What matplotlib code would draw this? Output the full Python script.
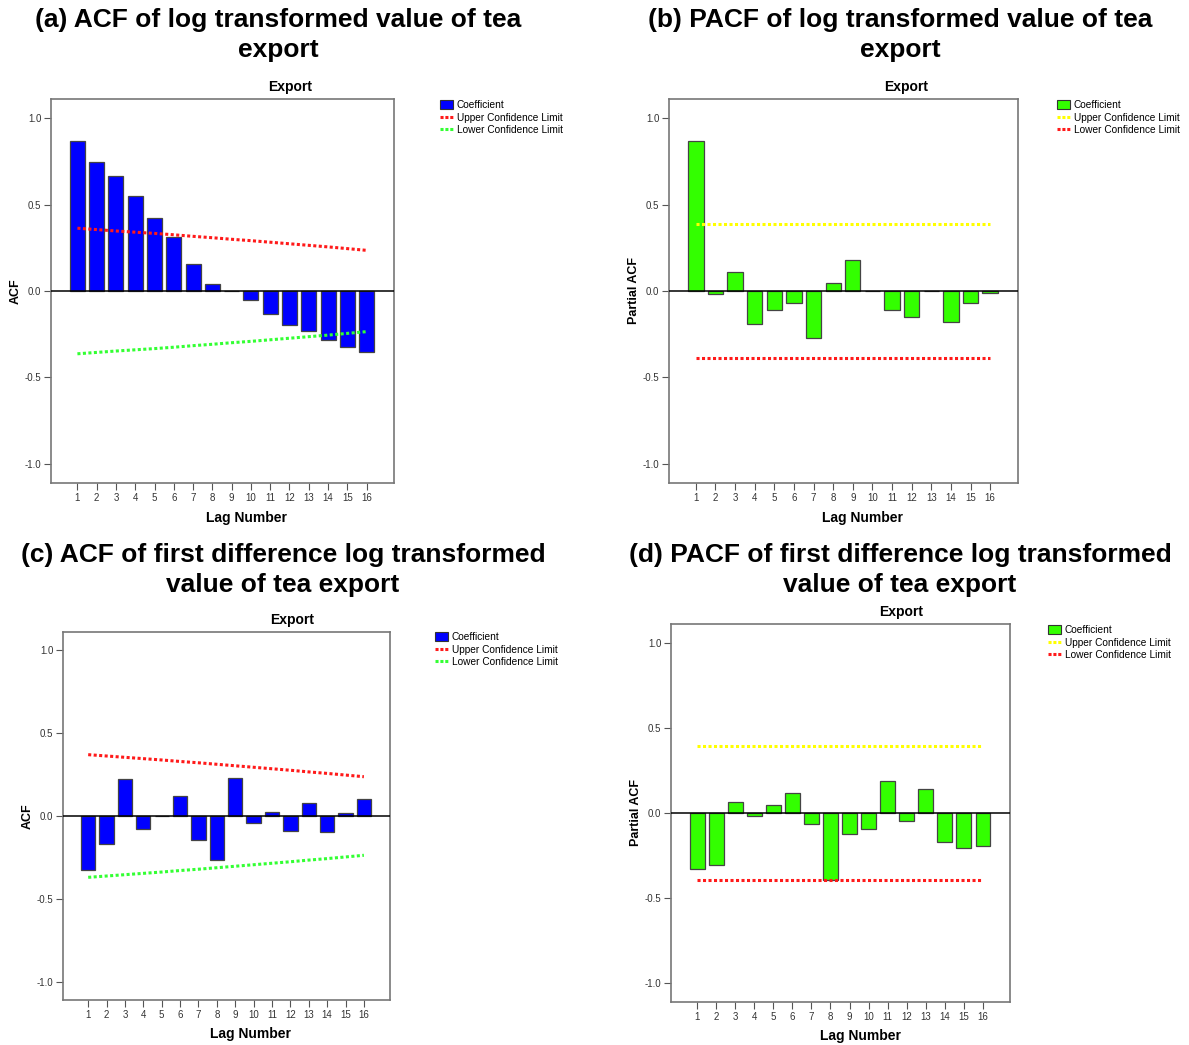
import matplotlib
matplotlib.use("Agg")
import matplotlib.pyplot as plt
from matplotlib.patches import Patch
from matplotlib.lines import Line2D

plt.rcParams['font.family'] = ['Liberation Sans', 'DejaVu Sans']

lags = list(range(1, 17))

acf_log = [0.865, 0.745, 0.666, 0.550, 0.423, 0.315, 0.154, 0.039, 0.002,
           -0.054, -0.133, -0.197, -0.230, -0.284, -0.322, -0.351]
acf_log_upper = [0.363, 0.355, 0.347, 0.340, 0.333, 0.325, 0.316, 0.308,
                 0.299, 0.291, 0.282, 0.273, 0.264, 0.255, 0.245, 0.235]

pacf_log = [0.865, -0.019, 0.112, -0.191, -0.112, -0.068, -0.274, 0.048,
            0.180, 0.002, -0.112, -0.151, 0.002, -0.178, -0.069, -0.010]
pacf_log_limit = 0.385

acf_diff = [-0.326, -0.167, 0.225, -0.076, 0.003, 0.119, -0.147, -0.266,
            0.229, -0.044, 0.026, -0.093, 0.078, -0.097, 0.016, 0.100]
acf_diff_upper = [0.370, 0.362, 0.354, 0.346, 0.338, 0.329, 0.321, 0.312,
                  0.303, 0.294, 0.285, 0.276, 0.266, 0.257, 0.247, 0.237]

pacf_diff = [-0.328, -0.308, 0.067, -0.016, 0.049, 0.118, -0.063, -0.393,
             -0.126, -0.092, 0.187, -0.045, 0.139, -0.169, -0.206, -0.195]
pacf_diff_limit = 0.393

titles = ["(a) ACF of log transformed value of tea\nexport",
          "(b) PACF of log transformed value of tea\nexport",
          "(c) ACF of first difference log transformed\nvalue of tea export",
          "(d) PACF of first difference log transformed\nvalue of tea export"]
ytick_vals = [-1.0, -0.5, 0.0, 0.5, 1.0]
ytick_labels = ["-1.0", "-0.5", "0.0", "0.5", "1.0"]

W, H = 1189, 1045
fig = plt.figure(figsize=(W / 100, H / 100), dpi=100)

def fx(px):
    return px / W

def fy(py):
    return 1 - py / H

# axes rectangles in pixel coordinates (left, top, right, bottom)
rects = [(51, 99, 394, 483), (669, 99, 1018, 483),
         (63, 632, 390, 1000), (671, 624, 1010, 1002)]
title_pos = [(278, 20), (900, 20), (283, 555), (900, 555)]
legend_pos = [(440, 100), (1057, 100), (435, 632), (1048, 625)]
export_pos = [(290, 87), (906, 87), (292, 620), (901, 612)]
lag_pos = [(246, 518), (863, 518), (251, 1034), (860, 1036)]

BLUE = "#0000FF"
GREEN = "#33FF00"
RED = "#FF1A1A"
LGREEN = "#33FF33"
YELLOW = "#FFFF00"

specs = [
    dict(vals=acf_log, upper=acf_log_upper, lower=[-v for v in acf_log_upper],
         color=BLUE, ucol=RED, lcol=LGREEN, ylabel="ACF"),
    dict(vals=pacf_log, upper=[pacf_log_limit] * 16, lower=[-pacf_log_limit] * 16,
         color=GREEN, ucol=YELLOW, lcol=RED, ylabel="Partial ACF"),
    dict(vals=acf_diff, upper=acf_diff_upper, lower=[-v for v in acf_diff_upper],
         color=BLUE, ucol=RED, lcol=LGREEN, ylabel="ACF"),
    dict(vals=pacf_diff, upper=[pacf_diff_limit] * 16, lower=[-pacf_diff_limit] * 16,
         color=GREEN, ucol=YELLOW, lcol=RED, ylabel="Partial ACF"),
]

for i, sp in enumerate(specs):
    l, t, r, b = rects[i]
    ax = fig.add_axes([fx(l), fy(b), (r - l) / W, (b - t) / H])
    ax.bar(lags, sp["vals"], width=0.78, color=sp["color"],
           edgecolor="#444444", linewidth=0.9, zorder=2)
    ax.axhline(0, color="black", linewidth=1.1, zorder=3)
    ax.plot(lags, sp["upper"], color=sp["ucol"], linestyle=(0, (1, 0.8)),
            linewidth=2.2, zorder=4)
    ax.plot(lags, sp["lower"], color=sp["lcol"], linestyle=(0, (1, 0.8)),
            linewidth=2.2, zorder=4)
    ax.set_xlim(-0.37, 17.42)
    ax.set_ylim(-1.11, 1.11)
    ax.set_xticks(lags)
    ax.set_xticklabels([str(k) for k in lags], fontsize=7, color="#333333")
    ax.set_yticks(ytick_vals)
    ax.set_yticklabels(ytick_labels, fontsize=7, color="#333333")
    ax.tick_params(axis="both", direction="out", length=5, width=0.8,
                   color="#555555", pad=2)
    for s in ax.spines.values():
        s.set_color("#777777")
        s.set_linewidth(1.2)
    ax.set_ylabel(sp["ylabel"], fontsize=9, fontweight="bold", labelpad=2)

    ex, ey = export_pos[i]
    fig.text(fx(ex), fy(ey), "Export", ha="center", va="center",
             fontsize=10, fontweight="bold")
    gx, gy = lag_pos[i]
    fig.text(fx(gx), fy(gy), "Lag Number", ha="center", va="center",
             fontsize=10, fontweight="bold")

    handles = [Patch(facecolor=sp["color"], edgecolor="#333333", linewidth=0.8),
               Line2D([0], [0], color=sp["ucol"], linestyle=(0, (1, 0.6)), linewidth=2.2),
               Line2D([0], [0], color=sp["lcol"], linestyle=(0, (1, 0.6)), linewidth=2.2)]
    lx, ly = legend_pos[i]
    fig.legend(handles, ["Coefficient", "Upper Confidence Limit", "Lower Confidence Limit"],
               loc="upper left", bbox_to_anchor=(fx(lx), fy(ly)),
               frameon=False, fontsize=7.3, handlelength=1.3, handleheight=0.9,
               handletextpad=0.35, labelspacing=0.25, borderpad=0, borderaxespad=0)

    # two title lines placed by their centres, 30 px apart
    tx, ty = title_pos[i]
    line1, line2 = titles[i].split("\n")
    fig.text(fx(tx), fy(ty), line1, ha="center", va="center", fontsize=19,
             fontweight="bold")
    fig.text(fx(tx), fy(ty + 30), line2, ha="center", va="center", fontsize=19,
             fontweight="bold")

fig.savefig("out.png", dpi=100)
